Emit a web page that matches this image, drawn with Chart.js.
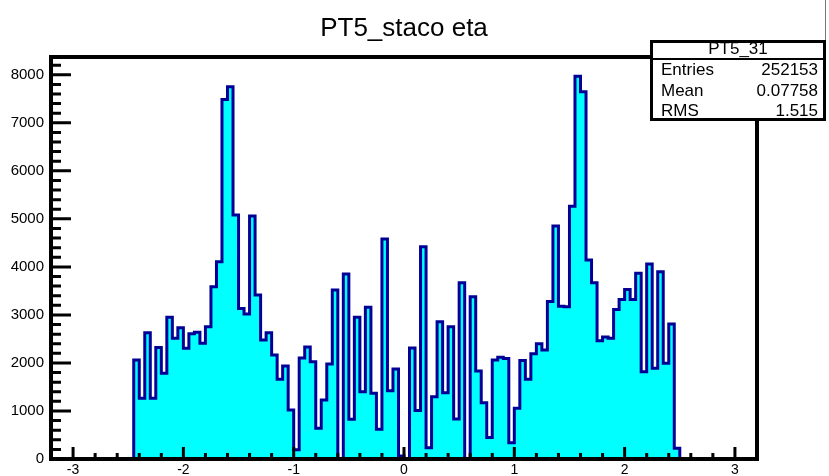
<!DOCTYPE html>
<html>
<head>
<meta charset="utf-8">
<script src="https://cdn.jsdelivr.net/npm/chart.js@4"></script>
<style>
  body { margin: 0; background: #fff; }
  #wrap { position: relative; width: 829px; height: 476px; overflow: hidden; font-family: "Liberation Sans", Arial, sans-serif; color: #000; }
  #c { position: absolute; left: 0; top: 0; }
  .t { position: absolute; white-space: nowrap; font-size: 17px; line-height: 17px; }
  #title { position: absolute; left: 0; width: 808px; top: 14px; text-align: center; font-size: 26px; line-height: 26px; }
  #stats { position: absolute; left: 650px; top: 40px; width: 176px; height: 81px; box-sizing: border-box; border: 3px solid #000; background: #fff; }
  #sep { position: absolute; left: 650px; top: 58px; width: 176px; height: 2px; background: #000; }
  #edge { position: absolute; left: 825px; top: 0; width: 1px; height: 40px; background: #777; }
</style>
</head>
<body>
<div id="wrap">
  <canvas id="c" width="829" height="476"></canvas>
  <div id="title">PT5_staco eta</div>
  <div id="edge"></div>
  <div id="stats"></div>
  <div id="sep"></div>
  <div class="t" style="left:650px;width:176px;text-align:center;top:40px">PT5_31</div>
  <div class="t" style="left:661px;top:61px">Entries</div>
  <div class="t" style="left:650px;width:168px;text-align:right;top:61px">252153</div>
  <div class="t" style="left:661px;top:82px">Mean</div>
  <div class="t" style="left:650px;width:168px;text-align:right;top:82px">0.07758</div>
  <div class="t" style="left:661px;top:102px">RMS</div>
  <div class="t" style="left:650px;width:168px;text-align:right;top:102px">1.515</div>
</div>
<script>
// histogram range and binning (128 bins over -3.2..3.2)
const xMin = -3.2, xMax = 3.2, binWidth = 0.05;
const yMax = 8370;

// bin contents, eta from -2.45 up to 0
const negStart = -2.45;
const countsNeg = [
  2060, 1263, 2629, 1263, 2324, 1783, 2949, 2512, 2733, 2304,
  2610, 2640, 2408, 2754, 3586, 4106, 7486, 7748, 5078, 3136,
  3020, 5057, 3413, 2477, 2629, 2164, 1658, 1935, 1020, 190,
  2105, 2330, 2025, 638, 1228, 1977, 3517, 0, 3850, 826,
  2949, 1401, 3157, 1367, 618, 4578, 1422, 1873, 60
];
// eta from 0 up to 2.5
const posStart = 0;
const countsPos = [
  0, 2310, 1010, 4419, 236, 1297, 2858, 1380, 2754, 832,
  3670, 0, 3378, 1831, 1172, 450, 2060, 2120, 2090, 340,
  1055, 2050, 1658, 2190, 2400, 2268, 3280, 4850, 3180, 3170,
  5265, 7971, 7644, 4141, 3670, 2462, 2540, 2512, 3115, 3323,
  3531, 3323, 3865, 1817, 4058, 1887, 3898, 1992, 2810, 222
];

const xTicks = [-3, -2, -1, 0, 1, 2, 3];
const yTicks = [0, 1000, 2000, 3000, 4000, 5000, 6000, 7000, 8000];

// step points: each point is a bin's low edge carrying that bin's content
const points = [{ x: xMin, y: 0 }];
countsNeg.forEach((c, i) => points.push({ x: negStart + i * binWidth, y: c }));
countsPos.forEach((c, i) => points.push({ x: posStart + i * binWidth, y: c }));
points.push({ x: posStart + countsPos.length * binWidth, y: 0 });
points.push({ x: xMax, y: 0 });

// ROOT style frame with ticks drawn inside
const rootFrame = {
  id: 'rootFrame',
  afterDatasetsDraw(chart) {
    const { ctx, chartArea: a, scales: { x, y } } = chart;
    ctx.save();
    ctx.strokeStyle = '#000';
    ctx.lineWidth = 3;
    ctx.beginPath();
    for (let k = -16; k <= 16; k++) {
      const px = x.getPixelForValue(k / 5);
      const len = k % 5 === 0 ? 12 : 6;
      ctx.moveTo(px, a.bottom);
      ctx.lineTo(px, a.bottom - len);
    }
    for (let k = 0; k * 200 <= yMax; k++) {
      const py = y.getPixelForValue(k * 200);
      const len = k % 5 === 0 ? 20 : 10;
      ctx.moveTo(a.left, py);
      ctx.lineTo(a.left + len, py);
    }
    ctx.stroke();
    ctx.lineWidth = 4;
    ctx.strokeRect(a.left, a.top, a.right - a.left, a.bottom - a.top);
    ctx.restore();
  }
};

Chart.defaults.font.family = '"Liberation Sans", Arial, sans-serif';
Chart.defaults.color = '#000';

new Chart(document.getElementById('c').getContext('2d'), {
  type: 'line',
  data: {
    datasets: [{
      data: points,
      stepped: true,
      fill: 'origin',
      backgroundColor: '#00ffff',
      borderColor: '#000096',
      borderWidth: 3,
      borderJoinStyle: 'miter',
      pointRadius: 0,
      tension: 0
    }]
  },
  options: {
    responsive: false,
    animation: false,
    layout: { padding: { left: 0, right: 72, top: 57, bottom: 0 } },
    plugins: { legend: { display: false }, tooltip: { enabled: false }, title: { display: false } },
    scales: {
      x: {
        type: 'linear',
        min: xMin,
        max: xMax,
        grid: { display: false, drawTicks: false },
        border: { display: false },
        afterBuildTicks: axis => { axis.ticks = xTicks.map(v => ({ value: v })); },
        afterFit: scale => { scale.height = 17; },
        ticks: { padding: 3, autoSkip: false, maxRotation: 0, font: { size: 14 }, callback: v => String(v) }
      },
      y: {
        min: 0,
        max: yMax,
        grid: { display: false, drawTicks: false },
        border: { display: false },
        afterBuildTicks: axis => { axis.ticks = yTicks.map(v => ({ value: v })); },
        afterFit: scale => { scale.width = 51; },
        ticks: { padding: 7, font: { size: 15 }, callback: v => String(v) }
      }
    }
  },
  plugins: [rootFrame]
});
</script>
</body>
</html>
